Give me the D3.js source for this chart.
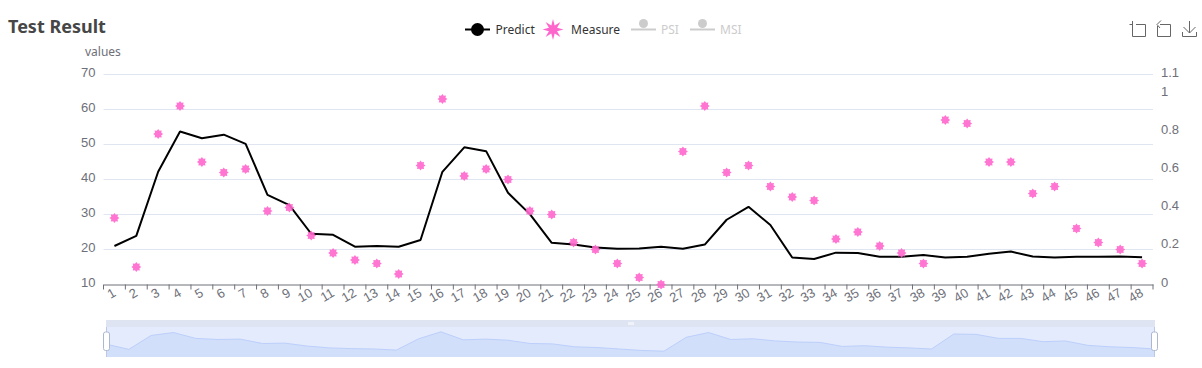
<!DOCTYPE html>
<html>
<head>
<meta charset="utf-8">
<script src="https://cdn.jsdelivr.net/npm/d3@7"></script>
<style>
    html, body { margin: 0; padding: 0; background: #fff; }
    svg { display: block; font-family: "Noto Sans", "Open Sans", sans-serif; }
</style>
</head>
<body>
<div id="chart"></div>
<script>
// values
const categories = d3.range(1, 49).map(String);
const predict = [21.0, 23.9, 42.2, 53.7, 51.8, 52.8, 50.2, 35.6, 32.7, 24.5, 24.2, 20.8,
    21.0, 20.8, 22.7, 42.2, 49.2, 48.1, 36.2, 30.1, 21.9, 21.4, 20.6, 20.2,
    20.3, 20.8, 20.2, 21.4, 28.5, 32.2, 27.0, 17.7, 17.3, 19.1, 19.0, 17.9,
    17.9, 18.4, 17.7, 17.9, 18.8, 19.4, 18.0, 17.7, 17.9, 17.9, 18.0, 17.8];
const measure = [29, 15, 53, 61, 45, 42, 43, 31, 32, 24, 19, 17, 16, 13, 44, 63,
    41, 43, 40, 31, 30, 22, 20, 16, 12, 10, 48, 61, 42, 44, 38, 35,
    34, 23, 25, 21, 19, 16, 57, 56, 45, 45, 36, 38, 26, 22, 20, 16];
const leftTicks = [10, 20, 30, 40, 50, 60, 70];
const rightTicks = [0, 0.2, 0.4, 0.6, 0.8, 1, 1.1];

const width = 1202, height = 368;
const margin = { top: 74.5, right: 49, bottom: 83.5, left: 103.5 };

const svg = d3.select("#chart").append("svg")
    .attr("width", width)
    .attr("height", height);

const x = d3.scaleBand().domain(categories).range([margin.left, width - margin.right]);
const y = d3.scaleLinear().domain([10, 70]).range([height - margin.bottom, margin.top]);
const yRight = d3.scaleLinear().domain([0, 1.1]).range([height - margin.bottom, margin.top]);

// star marker, drawn around 0,0
function starPath(points, outer, inner) {
    const line = d3.lineRadial().curve(d3.curveLinearClosed);
    const coords = d3.range(points * 2).map(function(i) {
        return [i * Math.PI / points, i % 2 ? inner : outer];
    });
    return line(coords);
}

// grid
svg.append("g").selectAll("line")
    .data(leftTicks.slice(1))
    .enter().append("line")
    .attr("x1", margin.left)
    .attr("x2", width - margin.right)
    .attr("y1", d => y(d))
    .attr("y2", d => y(d))
    .attr("stroke", "#e0e6f1");

// axes
const xAxis = svg.append("g")
    .attr("transform", `translate(0, ${height - margin.bottom})`)
    .call(d3.axisBottom(x).tickSizeOuter(0).tickSize(0));
xAxis.select(".domain").attr("stroke", "#6e7079");
xAxis.selectAll(".tick text")
    .attr("fill", "#6e7079")
    .style("font-size", "13px")
    .attr("text-anchor", "end")
    .attr("x", 0).attr("y", 0).attr("dy", "0.35em")
    .attr("transform", "translate(0, 7) rotate(-30)");

// boundary ticks of the category axis
const boundaries = categories.map(d => x(d)).concat([width - margin.right]);
svg.append("g").selectAll("line")
    .data(boundaries)
    .enter().append("line")
    .attr("x1", d => d)
    .attr("x2", d => d)
    .attr("y1", height - margin.bottom)
    .attr("y2", height - margin.bottom + 5)
    .attr("stroke", "#6e7079");

const leftAxis = svg.append("g")
    .attr("transform", `translate(${margin.left}, 0)`)
    .call(d3.axisLeft(y).tickValues(leftTicks).tickSize(0).tickPadding(8));
leftAxis.select(".domain").remove();
leftAxis.selectAll("text").attr("fill", "#6e7079").style("font-size", "13px").attr("dy", "0.12em");

const rightAxis = svg.append("g")
    .attr("transform", `translate(${width - margin.right}, 0)`)
    .call(d3.axisRight(yRight).tickValues(rightTicks).tickFormat(d => String(d)).tickSize(0).tickPadding(8));
rightAxis.select(".domain").remove();
rightAxis.selectAll("text").attr("fill", "#6e7079").style("font-size", "13px").attr("dy", "0.12em");

svg.append("text")
    .attr("x", 85).attr("y", 56)
    .attr("fill", "#6e7079")
    .style("font-size", "12px")
    .text("values");

// predict line
const line = d3.line()
    .x((d, i) => x(categories[i]) + x.bandwidth() / 2)
    .y(d => y(d));
svg.append("path")
    .datum(predict)
    .attr("d", line)
    .attr("fill", "none")
    .attr("stroke", "#000")
    .attr("stroke-width", 2)
    .attr("stroke-linejoin", "bevel");

// measure points
svg.append("g").selectAll("path")
    .data(measure)
    .enter().append("path")
    .attr("d", starPath(8, 5, 3.4))
    .attr("transform", (d, i) => `translate(${x(categories[i]) + x.bandwidth() / 2}, ${y(d)})`)
    .attr("fill", "#ff66cc")
    .attr("fill-opacity", 0.9);

// title
svg.append("text")
    .attr("x", 8).attr("y", 33)
    .attr("fill", "#464646")
    .style("font-size", "18px")
    .style("font-weight", "700")
    .text("Test Result");

// legend
const legend = svg.append("g").style("font-size", "12px");
legend.append("line").attr("x1", 465).attr("x2", 490).attr("y1", 29.5).attr("y2", 29.5)
    .attr("stroke", "#000").attr("stroke-width", 2);
legend.append("circle").attr("cx", 477.5).attr("cy", 29.5).attr("r", 6.5).attr("fill", "#000");
legend.append("text").attr("x", 495.5).attr("y", 33.5).attr("fill", "#333").text("Predict");
legend.append("path").attr("d", starPath(8, 10.5, 4.4))
    .attr("transform", "translate(553, 29.5)")
    .attr("fill", "#ff66cc");
legend.append("text").attr("x", 571).attr("y", 33.5).attr("fill", "#333").text("Measure");
[["PSI", 631, 661], ["MSI", 690, 720]].forEach(function(d) {
    legend.append("line").attr("x1", d[1]).attr("x2", d[1] + 25).attr("y1", 29.5).attr("y2", 29.5)
        .attr("stroke", "#ccc").attr("stroke-width", 2);
    legend.append("circle").attr("cx", d[1] + 12.5).attr("cy", 23.5).attr("r", 4.5).attr("fill", "#ccc");
    legend.append("text").attr("x", d[2]).attr("y", 33.5).attr("fill", "#ccc").text(d[0]);
});

// toolbox icons
const tools = svg.append("g")
    .attr("fill", "none")
    .attr("stroke", "#666")
    .attr("stroke-width", 1);
tools.append("path").attr("d", "M1129.5 24.5H1132.5M1132.5 21V36.5H1145.5V24.5H1136");
tools.append("path").attr("d", "M1160 24.5H1170.5V36.5H1157.5V26M1157 24.5L1161 20.5M1157 24.5L1160 28");
tools.append("path").attr("d", "M1189.5 21V33M1183.5 27L1189.5 33L1195.5 27M1182.5 32V36.5H1196.5V32");

// data zoom slider
const sliderLeft = 106, sliderRight = 1155;
const slider = svg.append("g");
slider.append("rect")
    .attr("x", sliderLeft).attr("y", 320)
    .attr("width", sliderRight - sliderLeft).attr("height", 7)
    .attr("fill", "#dee4f1");
slider.append("rect")
    .attr("x", sliderLeft).attr("y", 327)
    .attr("width", sliderRight - sliderLeft).attr("height", 30)
    .attr("fill", "#e4ebfc");

const xShadow = d3.scalePoint().domain(categories).range([sliderLeft + 0.5, sliderRight - 0.5]);
const yShadow = d3.scaleLinear().domain([-5.9, 78.9]).range([357, 326]);
slider.append("path")
    .datum(measure)
    .attr("d", d3.area()
        .x((d, i) => xShadow(categories[i]))
        .y0(357)
        .y1(d => yShadow(d)))
    .attr("fill", "#d2dffa");
slider.append("path")
    .datum(measure)
    .attr("d", d3.line()
        .x((d, i) => xShadow(categories[i]))
        .y(d => yShadow(d)))
    .attr("fill", "none")
    .attr("stroke", "#bccffb");

[sliderLeft + 0.5, sliderRight - 0.5].forEach(function(hx) {
    slider.append("line").attr("x1", hx).attr("x2", hx).attr("y1", 327).attr("y2", 357)
        .attr("stroke", "#bcc8e4");
    slider.append("rect")
        .attr("x", hx - 3).attr("y", 332).attr("width", 6).attr("height", 18.5).attr("rx", 2)
        .attr("fill", "#fff").attr("stroke", "#acb8d1");
});
slider.append("g").selectAll("rect")
    .data([628.5, 630.5, 632.5])
    .enter().append("rect")
    .attr("x", d => d).attr("y", 322).attr("width", 1).attr("height", 3)
    .attr("fill", "#fff");
</script>
</body>
</html>
